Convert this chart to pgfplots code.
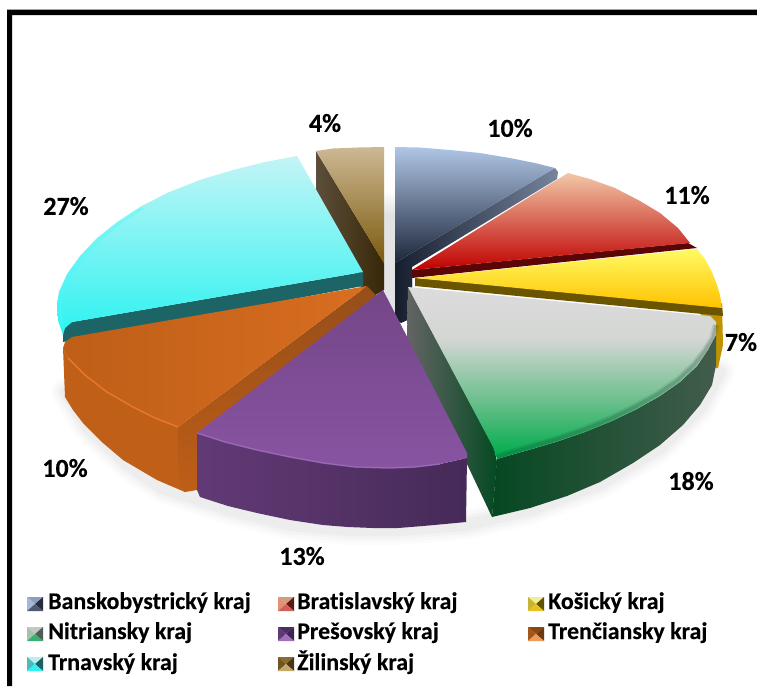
\documentclass[border=0pt]{standalone}
\usepackage{pgfplots}
\usepackage{fontspec}
\setmainfont{Carlito}[Ligatures=NoCommon,BoldFeatures={FakeBold=0.25}]
\pgfplotsset{compat=1.18}

\tikzset{
  lbl/.style={font=\fontsize{26}{26}\selectfont\bfseries, text=black, inner sep=0pt},
  leg/.style={font=\fontsize{23.9}{24}\selectfont\bfseries, text=black, inner sep=0pt, anchor=base west},
}

% three-stop gradient of the grey/green slice: path box maps to 25bp..75bp
\pgfdeclareverticalshading{greentop}{100bp}{
  rgb(0bp)=(0.03,0.68,0.32);
  rgb(27bp)=(0.03,0.68,0.32);
  rgb(42bp)=(0.42,0.75,0.55);
  rgb(60bp)=(0.83,0.84,0.83);
  rgb(75bp)=(0.86,0.86,0.86);
  rgb(100bp)=(0.86,0.86,0.86)}

% legend key: four facets of a small pyramid, x y = top left corner, then HTML colours top, left, right, bottom
\newcommand{\legendkey}[6]{%
  \definecolor{kt#1#2}{HTML}{#3}\definecolor{kl#1#2}{HTML}{#4}%
  \definecolor{kr#1#2}{HTML}{#5}\definecolor{kb#1#2}{HTML}{#6}%
  \edef\kxa{\the\numexpr#1+8\relax}\edef\kxb{\the\numexpr#1+16\relax}%
  \edef\kya{\the\numexpr#2+7\relax}\edef\kyb{\the\numexpr#2+14\relax}%
  \edef\tmp{\noexpand\addplot[draw=none,fill=kt#1#2] coordinates {(#1,#2)(\kxb,#2)(\kxa,\kya)} --cycle;}\tmp
  \edef\tmp{\noexpand\addplot[draw=none,fill=kl#1#2] coordinates {(#1,#2)(\kxa,\kya)(#1,\kyb)} --cycle;}\tmp
  \edef\tmp{\noexpand\addplot[draw=none,fill=kr#1#2] coordinates {(\kxb,#2)(\kxb,\kyb)(\kxa,\kya)} --cycle;}\tmp
  \edef\tmp{\noexpand\addplot[draw=none,fill=kb#1#2] coordinates {(#1,\kyb)(\kxb,\kyb)(\kxa,\kya)} --cycle;}\tmp
}

\begin{document}
\begin{tikzpicture}
\begin{axis}[
  scale only axis, width=757pt, height=686pt,
  xmin=0, xmax=757, ymin=0, ymax=686, y dir=reverse,
  hide axis, no markers,
  every axis plot/.append style={forget plot, line join=round},
]
% page and frame
\addplot[draw=none, fill=white] coordinates {(0,0)(757,0)(757,686)(0,686)} --cycle;
\addplot[draw=none, fill=black] coordinates {(7,9.5)(757,9.5)(757,15)(12,15)(12,686)(7,686)} --cycle;

% soft shadow below the pie
\addplot[draw=black, opacity=0.012, line width=30pt, line cap=round] coordinates {
  (66,392)(88,428)(128,465)(162,488)(190,497)(230,510)(290,525)(348,530)(398,530)(466,525)(530,510)(600,484)(660,448)(700,408)(720,372)};
\addplot[draw=black, opacity=0.016, line width=24pt, line cap=round] coordinates {
  (66,392)(88,428)(128,465)(162,488)(190,497)(230,510)(290,525)(348,530)(398,530)(466,525)(530,510)(600,484)(660,448)(700,408)(720,372)};
\addplot[draw=black, opacity=0.02, line width=18pt, line cap=round] coordinates {
  (66,392)(88,428)(128,465)(162,488)(190,497)(230,510)(290,525)(348,530)(398,530)(466,525)(530,510)(600,484)(660,448)(700,408)(720,372)};
\addplot[draw=black, opacity=0.025, line width=12pt, line cap=round] coordinates {
  (66,392)(88,428)(128,465)(162,488)(190,497)(230,510)(290,525)(348,530)(398,530)(466,525)(530,510)(600,484)(660,448)(700,408)(720,372)};

% grey gap between Zilina and Banska Bystrica
\addplot[draw=none, top color=white, bottom color=black!11] coordinates {(384,190)(396,190)(396,215)(384,215)} --cycle;
\addplot[draw=none, fill=black!11] coordinates {(384,215)(396,215)(396,322)(384,290)} --cycle;

% Banskobystricky
\addplot[draw=none, left color={rgb,255:red,22;green,30;blue,46}, right color={rgb,255:red,118;green,132;blue,156}] coordinates {
  (395,263)(555,168)(558,172)(557,179)(412,267)(412,318)(401,323)(395,318)} --cycle;
\addplot[draw=none, top color={rgb,255:red,176;green,198;blue,230}, middle color={rgb,255:red,112;green,132;blue,166}, bottom color={rgb,255:red,28;green,38;blue,58}] coordinates {
  (395,147)(420,147.5)(450,150)(480,153)(510,158)(535,163)(555,168)(395,263)} --cycle;

% Bratislavsky
\addplot[draw=none, fill={rgb,255:red,90;green,6;blue,6}] coordinates {
  (412,270)(688,243)(697,248)(412,278)(412,286)} --cycle;
\addplot[draw=none, top color={rgb,255:red,240;green,200;blue,168}, middle color={rgb,255:red,222;green,104;blue,78}, bottom color={rgb,255:red,192;green,0;blue,0}] coordinates {
  (568,173)(590,179)(615,188)(640,201)(660,213)(678,228)(690,243)(412,270)} --cycle;

% Kosicky
\addplot[draw=none, fill={rgb,255:red,192;green,146;blue,0}] coordinates {
  (722,303)(723,345)(718,368)(700,368)(700,315)} --cycle;
\addplot[draw=none, fill={rgb,255:red,107;green,85;blue,0}] coordinates {
  (415,278)(722,305)(723,316)(415,286)} --cycle;
\addplot[draw=none, top color={rgb,255:red,255;green,250;blue,100}, bottom color={rgb,255:red,255;green,194;blue,0}] coordinates {
  (415,278)(697,249)(705,259)(712,272)(717,285)(720,295)(722,308)} --cycle;

% Nitriansky
\addplot[draw=none, left color={rgb,255:red,6;green,72;blue,34}, right color={rgb,255:red,66;green,92;blue,76}] coordinates {
  (497,459)(525,451)(556,442)(585,432)(612,421)(637,409)(660,396)(680,382)(697,366)(708,350)(716,335)(716,365)
  (712,385)(700,405)(683,425)(660,445)(633,463)(600,482)(567,496)(530,508)(492,517)} --cycle;
\addplot[draw=none, left color={rgb,255:red,100;green,100;blue,100}, right color={rgb,255:red,4;green,74;blue,34}] coordinates {
  (408,287)(494,447)(497,462)(492,517)(407,337)} --cycle;
\addplot[draw=none, shading=greentop] coordinates {
  (408,287)(710,316)(716,322)(716,335)(708,350)(697,366)(680,382)(660,396)(637,409)(612,421)(585,432)(556,442)(525,451)(497,459)(493,447)} --cycle;
% blurred rim of the top face
\addplot[draw={rgb,255:red,20;green,70;blue,45}, opacity=0.12, line width=7pt] coordinates {
  (716,325)(713,338)(705,351)(694,365)(678,380)(658,394)(635,407)(610,419)(583,430)(554,440)(523,449)(497,457)};
\addplot[draw={rgb,255:red,20;green,70;blue,45}, opacity=0.2, line width=3.5pt] coordinates {
  (716,325)(713,338)(705,351)(694,365)(678,380)(658,394)(635,407)(610,419)(583,430)(554,440)(523,449)(497,457)};

% Zilinsky
\addplot[draw=none, left color={rgb,255:red,92;green,78;blue,58}, right color={rgb,255:red,56;green,40;blue,8}] coordinates {
  (316,151)(384,263)(384,290)(367,300)(316,190)} --cycle;
\addplot[draw=none, top color={rgb,255:red,204;green,184;blue,148}, bottom color={rgb,255:red,124;green,90;blue,12}] coordinates {
  (316,151)(333,148.5)(358,147.5)(384,147)(384,263)} --cycle;

% Trnavsky
\addplot[draw=none, fill={rgb,255:red,28;green,100;blue,102}] coordinates {
  (363,272)(363,286)(63,342)(63,330)(66,325)(72,322)} --cycle;
\addplot[draw=none, top color={rgb,255:red,196;green,244;blue,246}, bottom color={rgb,255:red,44;green,243;blue,240}] coordinates {
  (363,272)(297,156)(265,162)(233,170)(200,180)(167,193)(140,207)(117,222)(97,238)(80,256)(67,274)(59,292)(57,305)(58,320)(63,335)(65,328)(72,322)} --cycle;
\addplot[draw={rgb,255:red,70;green,252;blue,254}, line width=2.5pt, opacity=0.4] coordinates {
  (143,208)(120,223)(100,239)(83,257)(70,275)(62,292)(60,305)(61,318)(63,328)};

% Trenciansky
\addplot[draw=none, fill={rgb,255:red,192;green,96;blue,24}] coordinates {
  (63,348)(68,358)(85,375)(107,392)(133,407)(155,418)(178,427)(185,429)(185,492)(157,480)(123,460)(103,443)(83,423)(73,410)(65,397)} --cycle;
\addplot[draw=none, top color={rgb,255:red,150;green,78;blue,24}, bottom color={rgb,255:red,190;green,94;blue,24}] coordinates {
  (367,286)(374,293)(380,300)(210,445)(197,490)(185,492)(179,480)(178,427)} --cycle;
\addplot[draw=none, left color={rgb,255:red,190;green,94;blue,24}, right color={rgb,255:red,216;green,110;blue,32}] coordinates {
  (367,286)(72,337)(65,342)(63,348)(68,358)(85,375)(107,392)(133,407)(155,418)(178,427)} --cycle;
\addplot[draw={rgb,255:red,240;green,122;blue,42}, line width=1.5pt, opacity=0.8] coordinates {
  (68,358)(85,375)(107,392)(133,407)(155,418)(178,427)};

% Presovsky
\addplot[draw=none, left color={rgb,255:red,98;green,58;blue,118}, right color={rgb,255:red,70;green,42;blue,88}] coordinates {
  (467,458)(440,464)(415,467)(390,468)(355,467)(323,463)(290,457)(257,450)(225,442)(197,433)(197,490)(200,497)
  (228,506)(257,513)(290,520)(323,525)(348,527)(373,528)(398,528)(423,526)(445,524)(466,522)} --cycle;
\addplot[draw=none, top color={rgb,255:red,116;green,70;blue,136}, bottom color={rgb,255:red,136;green,84;blue,162}] coordinates {
  (383,290)(467,453)(467,458)(440,464)(415,467)(390,468)(355,467)(323,463)(290,457)(257,450)(225,442)(197,433)} --cycle;
\addplot[draw={rgb,255:red,160;green,106;blue,186}, line width=1.5pt, opacity=0.8] coordinates {
  (440,464)(415,467)(390,468)(355,467)(323,463)(290,457)(257,450)(225,442)(197,433)};

% percentages
\node[lbl] at (axis cs:510,128) {10\%};
\node[lbl] at (axis cs:687,195) {11\%};
\node[lbl] at (axis cs:741,342) {7\%};
\node[lbl] at (axis cs:691,481) {18\%};
\node[lbl] at (axis cs:302,556) {13\%};
\node[lbl] at (axis cs:65,468) {10\%};
\node[lbl] at (axis cs:66,206) {27\%};
\node[lbl] at (axis cs:325,123) {4\%};

% legend
\legendkey{27}{597}{8E9FBC}{A5B8D8}{252D3E}{4F5A70}
\legendkey{278}{597}{D89A7C}{E58F72}{5A1A10}{D0605A}
\legendkey{528}{597}{F4EE90}{C8B430}{5F5200}{E8C020}
\legendkey{27}{627}{C4C8C4}{A8C0AC}{4E5E54}{38B070}
\legendkey{278}{627}{4E2E62}{5E3A74}{3E2450}{A070BC}
\legendkey{528}{627}{8A4614}{A85618}{6E3810}{EE9A58}
\legendkey{27}{657}{B8F0F2}{50B8BA}{1E6062}{30F0F0}
\legendkey{278}{657}{8C6A30}{70561E}{4A3610}{C4A870}
\node[leg] at (axis cs:48,609) {Banskobystrický kraj};
\node[leg] at (axis cs:297,609) {Bratislavský kraj};
\node[leg] at (axis cs:548,609) {Košický kraj};
\node[leg] at (axis cs:48,639) {Nitriansky kraj};
\node[leg] at (axis cs:297,639) {Prešovský kraj};
\node[leg] at (axis cs:548,639) {Trenčiansky kraj};
\node[leg] at (axis cs:48,670) {Trnavský kraj};
\node[leg] at (axis cs:297,670) {Žilinský kraj};
\end{axis}
\end{tikzpicture}
\end{document}
